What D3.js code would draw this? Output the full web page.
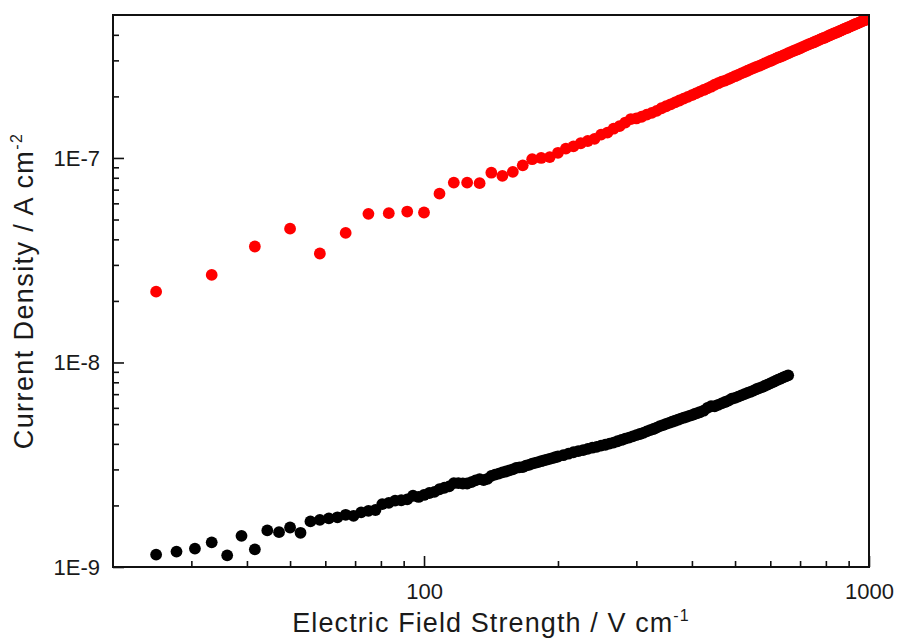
<!DOCTYPE html>
<html>
<head>
<meta charset="utf-8">
<script src="https://cdn.jsdelivr.net/npm/d3@7"></script>
<style>
  body { margin: 0; background: #fff; }
  svg text { font-family: Arial, "Liberation Sans", sans-serif; fill: #1a1a1a; }
</style>
</head>
<body>
<div id="chart"></div>
<script>
// field strength in V/cm, current density in nA/cm^2 (1 = 1E-9 A/cm^2)
const blackX = [
  25, 27.78, 30.56, 33.33, 36.11, 38.89, 41.67, 44.44, 47.22, 50,
  52.78, 55.56, 58.33, 61.11, 63.89, 66.67, 69.44, 72.22, 75, 77.78,
  80.56, 83.33, 86.11, 88.89, 91.67, 94.44, 97.22, 100,
  102.78, 105.56, 108.33, 111.11, 113.89, 116.67, 119.44, 122.22, 125, 127.78, 130.56, 133.33,
  136.11, 138.89, 141.67, 144.44, 147.22, 150, 152.78, 155.56, 158.33, 161.11, 163.89, 166.67,
  169.44, 172.22, 175, 177.78, 180.56, 183.33, 186.11, 188.89, 191.67, 194.44, 197.22, 200,
  205.56, 211.11, 216.67, 222.22, 227.78, 233.33, 238.89, 244.44, 250, 255.56,
  261.11, 266.67, 272.22, 277.78, 283.33, 288.89, 294.44, 300, 305.56, 311.11,
  316.67, 322.22, 327.78, 333.33, 338.89, 344.44, 350, 355.56, 361.11, 366.67,
  372.22, 377.78, 383.33, 388.89, 394.44, 400, 405.56, 411.11, 416.67,
  425, 433.33, 441.67, 450, 458.33, 466.67, 475, 483.33, 491.67, 500,
  508.33, 516.67, 525, 533.33, 541.67, 550, 558.33, 566.67, 575, 583.33,
  591.67, 600, 608.33, 616.67, 625, 633.33, 641.67, 650, 658.33
];
const blackY = [
  1.15, 1.19, 1.23, 1.32, 1.14, 1.42, 1.22, 1.51, 1.48, 1.56,
  1.47, 1.67, 1.70, 1.73, 1.75, 1.80, 1.78, 1.85, 1.88, 1.90,
  2.03, 2.06, 2.11, 2.12, 2.14, 2.23, 2.20, 2.25,
  2.30, 2.33, 2.40, 2.44, 2.48, 2.57, 2.57, 2.56, 2.56, 2.60, 2.65, 2.69,
  2.66, 2.70, 2.79, 2.83, 2.86, 2.90, 2.93, 2.97, 3.00, 3.05, 3.07, 3.08,
  3.13, 3.16, 3.20, 3.23, 3.26, 3.29, 3.32, 3.35, 3.38, 3.41, 3.44, 3.47,
  3.52, 3.58, 3.64, 3.69, 3.73, 3.78, 3.83, 3.87, 3.92, 3.96,
  4.01, 4.06, 4.12, 4.18, 4.24, 4.29, 4.35, 4.41, 4.47, 4.53,
  4.60, 4.67, 4.73, 4.80, 4.88, 4.94, 5.01, 5.07, 5.13, 5.19,
  5.25, 5.31, 5.37, 5.42, 5.48, 5.53, 5.60, 5.65, 5.71,
  5.81, 6.00, 6.11, 6.11, 6.21, 6.31, 6.41, 6.51, 6.65, 6.71,
  6.81, 6.90, 7.00, 7.10, 7.19, 7.29, 7.40, 7.50, 7.58, 7.69,
  7.80, 7.91, 8.02, 8.13, 8.24, 8.34, 8.45, 8.55, 8.65
];

const redX = [
  25, 33.33, 41.67, 50, 58.33, 66.67, 75, 83.33, 91.67, 100,
  108.33, 116.67, 125, 133.33, 141.67, 150, 158.33, 166.67, 175, 183.33,
  191.67, 200, 208.33, 216.67, 225, 233.33, 241.67, 250, 258.33, 266.67,
  275, 283.33, 291.67, 300, 308.33, 316.67, 325, 333.33, 341.67, 350,
  358.33, 366.67, 375, 383.33, 391.67, 400, 408.33, 416.67, 425, 433.33,
  441.67, 450, 458.33, 466.67, 475, 483.33, 491.67, 500, 508.33, 516.67,
  525, 533.33, 541.67, 550, 558.33, 566.67, 575, 583.33, 591.67, 600,
  608.33, 616.67, 625, 633.33, 641.67, 650, 658.33, 666.67, 675, 683.33,
  691.67, 700, 708.33, 716.67, 725, 733.33, 741.67, 750, 758.33, 766.67,
  775, 783.33, 791.67, 800, 808.33, 816.67, 825, 833.33, 841.67, 850,
  858.33, 866.67, 875, 883.33, 891.67, 900, 908.33, 916.67, 925, 933.33,
  941.67, 950, 958.33, 966.67, 975, 983.33, 991.67, 1000
];
const redY = [
  22.2, 26.8, 36.9, 45.1, 34.1, 43.0, 53.3, 53.7, 54.7, 54.1,
  66.9, 75.8, 75.8, 75.3, 84.7, 81.7, 85.5, 92.0, 98.6, 100,
  101, 106, 111, 114, 118, 121, 124, 130, 133, 139,
  143, 149, 155, 156, 159, 163, 166, 170, 175, 179,
  183, 187, 191, 195, 199, 203, 207, 211, 215, 219,
  223, 228, 232, 236, 239, 243, 247, 251, 255, 259,
  263, 267, 271, 275, 279, 282, 286, 290, 294, 298,
  302, 306, 310, 313, 317, 321, 325, 329, 333, 337,
  340, 344, 348, 352, 356, 360, 363, 367, 371, 375,
  379, 383, 386, 390, 394, 398, 402, 406, 409, 413,
  417, 421, 425, 429, 432, 436, 440, 444, 448, 452,
  455, 459, 463, 467, 471, 474, 479, 482
];

const xMajorTicks = [100, 1000];
const xMinorTicks = [30, 40, 50, 60, 70, 80, 90, 200, 300, 400, 500, 600, 700, 800, 900];
const yMajorTicks = [1, 10, 100];
const yTickLabels = ["1E-9", "1E-8", "1E-7"];
const yMinorTicks = [2, 3, 4, 5, 6, 7, 8, 9, 20, 30, 40, 50, 60, 70, 80, 90, 200, 300, 400];

const margin = { top: 15, right: 30, bottom: 74, left: 113 };
const width = 899, height = 641;
const w = width - margin.left - margin.right;
const h = height - margin.top - margin.bottom;

const x = d3.scaleLog().domain([20, 1000]).range([0, w]);
const y = d3.scaleLog().domain([1, 500]).range([h, 0]);

const svg = d3.select("#chart").append("svg")
  .attr("width", width)
  .attr("height", height);

const g = svg.append("g")
  .attr("transform", "translate(" + margin.left + "," + margin.top + ")");

g.append("clipPath").attr("id", "clip")
  .append("rect").attr("width", w).attr("height", h);

// points
const plot = g.append("g").attr("clip-path", "url(#clip)");
plot.selectAll("circle.black")
  .data(blackX.map((v, i) => [v, blackY[i]]))
  .enter().append("circle")
  .attr("class", "black")
  .attr("cx", d => x(d[0]))
  .attr("cy", d => y(d[1]))
  .attr("r", 5.9)
  .attr("fill", "#000");
plot.selectAll("circle.red")
  .data(redX.map((v, i) => [v, redY[i]]))
  .enter().append("circle")
  .attr("class", "red")
  .attr("cx", d => x(d[0]))
  .attr("cy", d => y(d[1]))
  .attr("r", 5.9)
  .attr("fill", "#ff0000");

// axes, ticks point inward
g.append("g")
  .attr("transform", "translate(0," + h + ")")
  .call(d3.axisBottom(x).tickValues(xMajorTicks).tickSize(-11).tickPadding(16)
    .tickFormat(d3.format("d")));
g.append("g")
  .attr("transform", "translate(0," + h + ")")
  .call(d3.axisBottom(x).tickValues(xMinorTicks).tickSize(-6).tickFormat(""));

g.append("g")
  .call(d3.axisLeft(y).tickValues(yMajorTicks).tickSize(-11).tickPadding(13)
    .tickFormat((d, i) => yTickLabels[i]));
g.append("g")
  .call(d3.axisLeft(y).tickValues(yMinorTicks).tickSize(-6).tickFormat(""));

g.selectAll(".domain").remove();
g.selectAll(".tick line").attr("stroke", "#111").attr("stroke-width", 1.6);
g.selectAll(".tick text").style("font-size", "22px").attr("fill", "#1a1a1a");

// frame
g.append("rect")
  .attr("width", w).attr("height", h)
  .attr("fill", "none")
  .attr("stroke", "#111")
  .attr("stroke-width", 2);

// axis titles
const xt = svg.append("text")
  .attr("x", margin.left + w / 2)
  .attr("y", 632)
  .attr("text-anchor", "middle")
  .style("font-size", "27px")
  .style("letter-spacing", "1.1px");
xt.append("tspan").text("Electric Field Strength / V cm");
xt.append("tspan").attr("dy", -11).style("font-size", "16px").text("-1");

const yt = svg.append("text")
  .attr("transform", "translate(33," + (margin.top + h / 2) + ") rotate(-90)")
  .attr("text-anchor", "middle")
  .style("font-size", "27px")
  .style("letter-spacing", "1.4px");
yt.append("tspan").text("Current Density / A cm");
yt.append("tspan").attr("dy", -11).style("font-size", "16px").text("-2");
</script>
</body>
</html>
